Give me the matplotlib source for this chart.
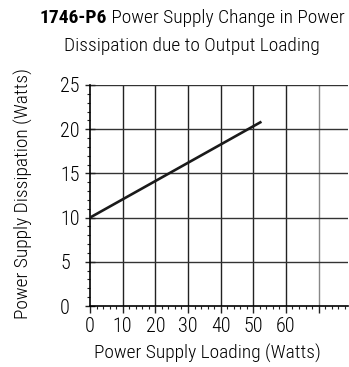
import numpy as np
import matplotlib
matplotlib.use("Agg")
import matplotlib.pyplot as plt
from matplotlib.ticker import MultipleLocator, FixedLocator, FixedFormatter

plt.rcParams['font.family'] = ['Roboto Condensed', 'DejaVu Sans']
plt.rcParams['font.stretch'] = 'condensed'
plt.rcParams['font.weight'] = 'light'
plt.rcParams['axes.labelweight'] = 'light'

# -------------------------
# DATA
# -------------------------

loading_watts = [0, 52.5]
dissipation_watts = [10.0, 20.85]

x_major = [0, 10, 20, 30, 40, 50, 60, 70]
x_labels = ["0", "10", "20", "30", "40", "50", "60", ""]
y_major = [0, 5, 10, 15, 20, 25]

# -------------------------
# FIGURE
# -------------------------

fig = plt.figure(figsize=(3.49, 3.67), dpi=100)
ax = fig.add_axes([90 / 349, 1 - 306 / 367, 258 / 349, 221 / 367])

ax.set_xlim(0, 79)
ax.set_ylim(0, 25)

# grid
for xv in x_major[1:]:
    ax.axvline(xv, color="#888888" if xv == 70 else "#222222", lw=1.0, zorder=1)
for yv in y_major[1:]:
    ax.axhline(yv, color="#333333", lw=1.0, zorder=1)

ax.plot(loading_watts, dissipation_watts, color="#1a1a1a", lw=1.9,
        solid_capstyle="butt", zorder=3)

for side in ["top", "right"]:
    ax.spines[side].set_visible(False)
ax.spines["left"].set_linewidth(1.2)
ax.spines["bottom"].set_linewidth(1.2)

ax.xaxis.set_major_locator(FixedLocator(x_major))
ax.xaxis.set_major_formatter(FixedFormatter(x_labels))
ax.xaxis.set_minor_locator(MultipleLocator(2))
ax.yaxis.set_major_locator(FixedLocator(y_major))
ax.yaxis.set_minor_locator(MultipleLocator(1))

ax.tick_params(axis="x", which="major", direction="out", length=5, width=1.0,
               labelsize=14.5, pad=3, color="#222222")
ax.tick_params(axis="x", which="minor", direction="out", length=2.2,
               width=0.8, color="#222222")
ax.tick_params(axis="y", which="major", direction="inout", length=7.2,
               width=1.0, labelsize=14.5, pad=18, color="#222222")
ax.tick_params(axis="y", which="minor", direction="out", length=2.2,
               width=0.8, color="#222222")
for lab in ax.get_yticklabels():
    lab.set_horizontalalignment("left")

ax.set_xlabel("Power Supply Loading (Watts)", fontsize=14)
ax.xaxis.set_label_coords(0.455, -0.172)
ax.set_ylabel("Power Supply Dissipation (Watts)", fontsize=14)
ax.yaxis.set_label_coords(-0.221, 0.509)

# -------------------------
# TITLE (bold part number + plain text)
# -------------------------

fig.canvas.draw()
renderer = fig.canvas.get_renderer()
t1 = fig.text(0, 0, "1746-P6", fontsize=14, fontweight="bold",
              transform=None, va="baseline")
t2 = fig.text(0, 0, " Power Supply Change in Power", fontsize=14,
              transform=None, va="baseline")
w1 = t1.get_window_extent(renderer).width
w2 = t2.get_window_extent(renderer).width
cx = 192
x0 = cx - (w1 + w2) / 2
t1.set_position((x0, 367 - 23))
t2.set_position((x0 + w1, 367 - 23))
fig.text(cx, 367 - 51, "Dissipation due to Output Loading", fontsize=14,
         transform=None, ha="center", va="baseline")

fig.savefig("out.png", dpi=100)
